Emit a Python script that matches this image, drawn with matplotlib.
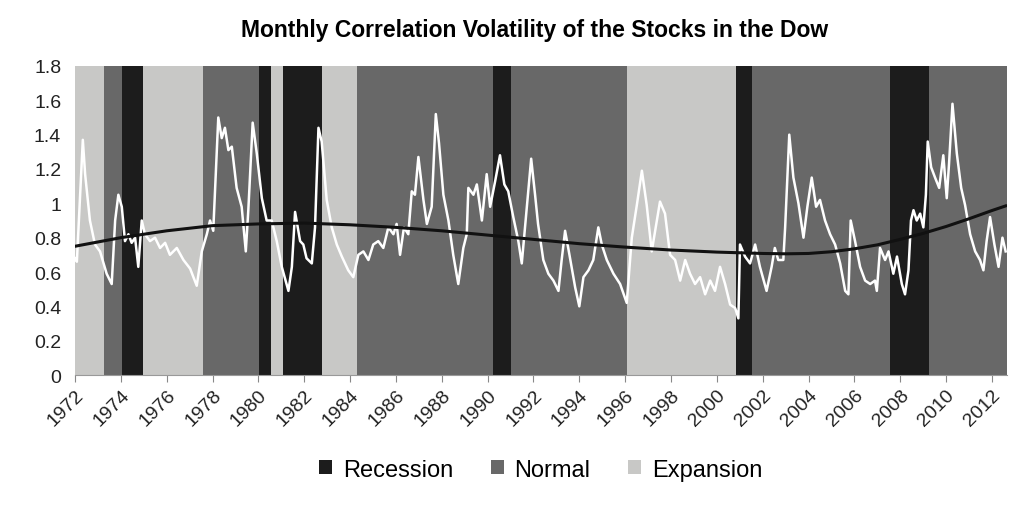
import matplotlib.pyplot as plt
from matplotlib.patches import Patch

plt.rcParams['font.family'] = ['Liberation Sans', 'DejaVu Sans']

# background regimes (start year, end year, type)
band_start = [1972.0, 1973.27, 1974.05, 1974.97, 1977.58, 1980.03, 1980.55, 1981.07,
              1982.78, 1984.3, 1990.24, 1991.02, 1996.08, 2000.84, 2001.54, 2007.56, 2009.26]
band_end = [1973.27, 1974.05, 1974.97, 1977.58, 1980.03, 1980.55, 1981.07, 1982.78,
            1984.3, 1990.24, 1991.02, 1996.08, 2000.84, 2001.54, 2007.56, 2009.26, 2012.66]
band_type = ['Expansion', 'Normal', 'Recession', 'Expansion', 'Normal', 'Recession',
             'Expansion', 'Recession', 'Expansion', 'Normal', 'Recession', 'Normal',
             'Expansion', 'Recession', 'Normal', 'Recession', 'Normal']
band_colors = {'Recession': '#1c1c1c', 'Normal': '#686868', 'Expansion': '#c8c8c6'}

# monthly correlation volatility
years = [1972.00, 1972.08, 1972.34, 1972.44, 1972.65, 1972.87, 1973.09, 1973.38, 1973.60, 1973.75,
         1973.89, 1974.04, 1974.18, 1974.33, 1974.47, 1974.62, 1974.76, 1974.91, 1975.05, 1975.27,
         1975.49, 1975.71, 1975.93, 1976.14, 1976.44, 1976.73, 1977.02, 1977.31, 1977.53, 1977.75,
         1977.89, 1978.03, 1978.25, 1978.40, 1978.54, 1978.69, 1978.84, 1979.05, 1979.27, 1979.45,
         1979.56, 1979.75, 1979.93, 1980.15, 1980.36, 1980.58, 1980.80, 1981.02, 1981.31, 1981.46,
         1981.60, 1981.82, 1981.96, 1982.10, 1982.33, 1982.47, 1982.62, 1982.76, 1982.98, 1983.20,
         1983.42, 1983.64, 1983.92, 1984.14, 1984.36, 1984.58, 1984.80, 1985.01, 1985.23, 1985.45,
         1985.67, 1985.89, 1986.03, 1986.18, 1986.35, 1986.54, 1986.69, 1986.83, 1986.98, 1987.20,
         1987.35, 1987.56, 1987.74, 1987.88, 1988.07, 1988.29, 1988.50, 1988.72, 1988.94, 1989.09,
         1989.16, 1989.38, 1989.53, 1989.75, 1989.96, 1990.11, 1990.33, 1990.54, 1990.73, 1990.90,
         1991.12, 1991.34, 1991.49, 1991.66, 1991.90, 1992.07, 1992.20, 1992.43, 1992.65, 1992.87,
         1993.09, 1993.23, 1993.38, 1993.57, 1993.82, 1994.00, 1994.18, 1994.40, 1994.61, 1994.83,
         1994.98, 1995.20, 1995.49, 1995.78, 1996.07, 1996.29, 1996.51, 1996.73, 1996.94, 1997.16,
         1997.52, 1997.74, 1997.96, 1998.18, 1998.40, 1998.62, 1998.83, 1999.05, 1999.27, 1999.49,
         1999.71, 1999.92, 2000.14, 2000.36, 2000.58, 2000.80, 2000.94, 2001.01, 2001.23, 2001.45,
         2001.67, 2001.88, 2002.17, 2002.39, 2002.53, 2002.68, 2002.90, 2002.98, 2003.16, 2003.34,
         2003.56, 2003.78, 2003.95, 2004.14, 2004.33, 2004.50, 2004.72, 2004.94, 2005.16, 2005.38,
         2005.60, 2005.74, 2005.84, 2006.03, 2006.25, 2006.47, 2006.69, 2006.90, 2006.98, 2007.12,
         2007.34, 2007.49, 2007.70, 2007.86, 2008.07, 2008.21, 2008.36, 2008.47, 2008.58, 2008.72,
         2008.87, 2009.01, 2009.12, 2009.20, 2009.35, 2009.52, 2009.70, 2009.88, 2010.03, 2010.13,
         2010.28, 2010.47, 2010.66, 2010.83, 2011.05, 2011.27, 2011.48, 2011.63, 2011.77, 2011.92,
         2012.11, 2012.29, 2012.46, 2012.60]
vol = [0.68, 0.66, 1.37, 1.17, 0.90, 0.76, 0.72, 0.59, 0.53, 0.90,
       1.05, 0.98, 0.78, 0.82, 0.77, 0.80, 0.63, 0.90, 0.82, 0.78,
       0.80, 0.74, 0.77, 0.70, 0.74, 0.67, 0.62, 0.52, 0.72, 0.82,
       0.90, 0.84, 1.50, 1.38, 1.44, 1.31, 1.33, 1.09, 0.98, 0.72,
       0.96, 1.47, 1.29, 1.03, 0.90, 0.90, 0.78, 0.63, 0.49, 0.63,
       0.95, 0.78, 0.76, 0.68, 0.65, 0.86, 1.44, 1.36, 1.02, 0.86,
       0.76, 0.69, 0.61, 0.57, 0.70, 0.72, 0.67, 0.76, 0.78, 0.74,
       0.86, 0.82, 0.88, 0.70, 0.86, 0.82, 1.07, 1.05, 1.27, 1.02,
       0.88, 0.98, 1.52, 1.35, 1.05, 0.90, 0.70, 0.53, 0.74, 0.82,
       1.09, 1.05, 1.11, 0.90, 1.17, 0.98, 1.13, 1.28, 1.11, 1.07,
       0.92, 0.78, 0.65, 0.90, 1.26, 1.05, 0.88, 0.67, 0.59, 0.55,
       0.49, 0.67, 0.84, 0.70, 0.51, 0.40, 0.57, 0.61, 0.67, 0.86,
       0.76, 0.67, 0.59, 0.53, 0.42, 0.80, 0.99, 1.19, 0.99, 0.72,
       1.01, 0.94, 0.70, 0.67, 0.55, 0.67, 0.59, 0.53, 0.57, 0.47,
       0.55, 0.49, 0.63, 0.53, 0.41, 0.39, 0.33, 0.76, 0.69, 0.65,
       0.76, 0.63, 0.49, 0.63, 0.74, 0.67, 0.67, 0.86, 1.40, 1.15,
       1.00, 0.80, 0.98, 1.15, 0.98, 1.02, 0.90, 0.82, 0.76, 0.65,
       0.49, 0.47, 0.90, 0.78, 0.63, 0.55, 0.53, 0.55, 0.49, 0.74,
       0.67, 0.72, 0.59, 0.69, 0.53, 0.47, 0.61, 0.90, 0.96, 0.90,
       0.94, 0.86, 1.05, 1.36, 1.21, 1.15, 1.09, 1.28, 1.03, 1.23,
       1.58, 1.29, 1.09, 0.99, 0.82, 0.72, 0.67, 0.61, 0.78, 0.92,
       0.76, 0.63, 0.80, 0.72]

# long-run trend line
trend_years = [1972, 1974, 1976, 1978, 1980, 1982, 1984, 1986, 1988, 1990, 1992,
               1994, 1996, 1998, 2000, 2002, 2003, 2004, 2005, 2006, 2007, 2008,
               2009, 2010, 2011, 2012, 2012.6]
trend = [0.75, 0.80, 0.84, 0.87, 0.88, 0.885, 0.875, 0.86, 0.84, 0.815, 0.79,
         0.765, 0.745, 0.728, 0.716, 0.708, 0.706, 0.708, 0.718, 0.735, 0.758, 0.79,
         0.825, 0.865, 0.91, 0.958, 0.985]

tick_years = list(range(1972, 2013, 2))

fig = plt.figure(figsize=(10.32, 5.06), dpi=100)
ax = fig.add_axes([0.0727, 0.2569, 0.9031, 0.6107])

for s, e, t in zip(band_start, band_end, band_type):
    ax.axvspan(s, e, color=band_colors[t], lw=0, zorder=0)

ax.plot(years, vol, color='white', lw=1.8, zorder=3)
ax.plot(trend_years, trend, color='#111111', lw=2.2, zorder=4)

ax.set_xlim(1972, 2012.66)
ax.set_ylim(0, 1.8)
ax.set_yticks([0, 0.2, 0.4, 0.6, 0.8, 1.0, 1.2, 1.4, 1.6, 1.8])
ax.set_yticklabels(['0', '0.2', '0.4', '0.6', '0.8', '1', '1.2', '1.4', '1.6', '1.8'])
ax.set_xticks(tick_years)
ax.set_xticklabels([str(y) for y in tick_years], rotation=45, ha='right', rotation_mode='anchor')
ax.tick_params(axis='y', length=0, pad=10, labelsize=14, labelcolor='#222222')
ax.tick_params(axis='x', length=5, color='#888888', labelsize=14, labelcolor='#222222', pad=3)
for side in ['top', 'right', 'left']:
    ax.spines[side].set_visible(False)
ax.spines['bottom'].set_color('#999999')

fig.suptitle('Monthly Correlation Volatility of the Stocks in the Dow',
             fontsize=16.5, fontweight='bold', x=0.518, y=0.963)

handles = [Patch(facecolor=band_colors[k], edgecolor='none', label=k)
           for k in ['Recession', 'Normal', 'Expansion']]
fig.legend(handles=handles, loc='center', bbox_to_anchor=(0.524, 0.07), ncol=3,
           frameon=False, fontsize=17, handlelength=0.55, handleheight=0.55,
           handletextpad=0.45, columnspacing=1.6)

fig.savefig('out.png', dpi=100)
